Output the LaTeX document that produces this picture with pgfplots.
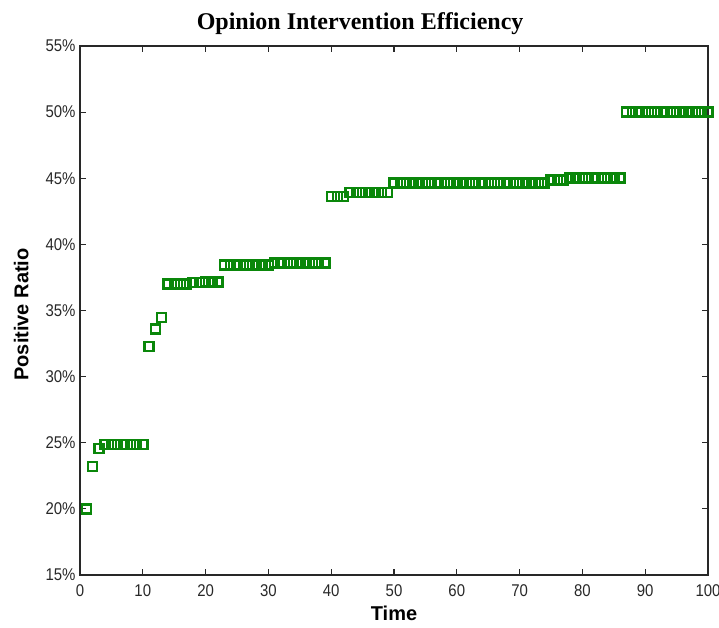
\documentclass[border=0pt]{standalone}
\usepackage{fontspec}
\setmainfont{Liberation Sans}
\newfontfamily\titlefont{Liberation Serif}
\newfontfamily\tickfont[FakeStretch=0.88]{Liberation Sans}
\usepackage{pgfplots}
\pgfplotsset{compat=1.18}
\definecolor{mgreen}{RGB}{10,135,10}
\definecolor{axgray}{RGB}{40,40,40}
\begin{document}
\begin{tikzpicture}
\useasboundingbox (-80pt,-52pt) rectangle (639pt,575pt);
\begin{axis}[
  scale only axis,
  width=628pt, height=529pt,
  at={(0,0)}, anchor=south west,
  xmin=0, xmax=100, ymin=15, ymax=55,
  xtick={0,10,...,100},
  ytick={15,20,...,55},
  yticklabels={15\%,20\%,25\%,30\%,35\%,40\%,45\%,50\%,55\%},
  tick align=inside,
  major tick length=6pt,
  axis line style={axgray, line width=1.2pt},
  tick style={axgray, line width=1.2pt},
  ticklabel style={font=\tickfont\fontsize{17}{19}\selectfont, text=axgray},
  /pgf/number format/assume math mode=true,
  xticklabel style={yshift=-6pt},
  yticklabel style={xshift=-1pt},
  title={\titlefont\bfseries Opinion Intervention Efficiency},
  title style={font=\fontsize{24}{28}\selectfont, at={(axis cs:44.6,55)}, anchor=south, yshift=2pt},
  xlabel={\bfseries Time},
  ylabel={\bfseries Positive Ratio},
  label style={font=\fontsize{20}{24}\selectfont},
  xlabel style={yshift=-3pt},
  ylabel style={yshift=10pt, xshift=-4pt},
]
\addplot[only marks, mark=square, mark size=4.5pt, mgreen, line width=2.4pt] coordinates {
(1,20.0) (2,23.2) (3,24.55)
(4,24.85) (5,24.85) (6,24.85) (7,24.85) (8,24.85) (9,24.85) (10,24.85)
(11,32.3) (12,33.6) (13,34.45)
(14,37.0) (15,37.0) (16,37.0) (17,37.0)
(18,37.1) (19,37.1)
(20,37.15) (21,37.15) (22,37.15)
(23,38.45) (24,38.45) (25,38.45) (26,38.45) (27,38.45) (28,38.45) (29,38.45) (30,38.45)
(31,38.58) (32,38.58) (33,38.58) (34,38.58) (35,38.58) (36,38.58) (37,38.58) (38,38.58) (39,38.58)
(40,43.6) (41,43.6) (42,43.6)
(43,43.9) (44,43.9) (45,43.9) (46,43.9) (47,43.9) (48,43.9) (49,43.9)
(50,44.63) (51,44.63) (52,44.63) (53,44.63) (54,44.63) (55,44.63) (56,44.63) (57,44.63) (58,44.63) (59,44.63)
(60,44.63) (61,44.63) (62,44.63) (63,44.63) (64,44.63) (65,44.63) (66,44.63) (67,44.63) (68,44.63) (69,44.63)
(70,44.63) (71,44.63) (72,44.63) (73,44.63) (74,44.63)
(75,44.87) (76,44.87) (77,44.87)
(78,45.02) (79,45.02) (80,45.02) (81,45.02) (82,45.02) (83,45.02) (84,45.02) (85,45.02) (86,45.02)
(87,50.0) (88,50.0) (89,50.0) (90,50.0) (91,50.0) (92,50.0) (93,50.0) (94,50.0) (95,50.0) (96,50.0)
(97,50.0) (98,50.0) (99,50.0) (100,50.0)
};
\end{axis}
\end{tikzpicture}
\end{document}
